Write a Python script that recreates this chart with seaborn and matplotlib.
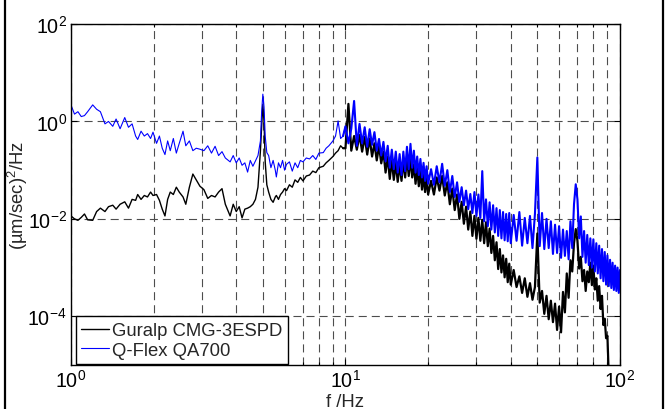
import numpy as np
import pandas as pd
import matplotlib
matplotlib.use("Agg")
import matplotlib.pyplot as plt
import seaborn as sns
from matplotlib.ticker import FixedLocator, LogFormatterMathtext, NullFormatter
from matplotlib.lines import Line2D

# ---------------- data (log10 of PSD) ----------------
freq_low = [1.00, 1.03, 1.06, 1.09, 1.12, 1.15, 1.20, 1.24, 1.28, 1.33, 1.37, 1.42, 1.46, 1.51,
            1.57, 1.62, 1.67, 1.72, 1.75, 1.80, 1.85, 1.90, 1.95, 1.99, 2.05, 2.10, 2.15, 2.20,
            2.25, 2.30, 2.36, 2.42, 2.48, 2.56, 2.62, 2.70, 2.78, 2.86, 2.95, 3.05, 3.15, 3.25,
            3.35, 3.45, 3.55, 3.65, 3.80, 3.90, 4.00, 4.10, 4.20, 4.30, 4.40, 4.50, 4.60, 4.70,
            4.80, 4.90, 4.95, 5.00, 5.05, 5.10, 5.17, 5.25, 5.35, 5.45, 5.55, 5.60, 5.70, 5.80,
            5.90, 6.00, 6.10, 6.25, 6.40, 6.55, 6.70, 6.85, 7.00, 7.20, 7.40, 7.60, 7.80, 8.00,
            8.30, 8.50, 8.70, 9.00, 9.20, 9.40, 9.60, 9.80]
freq_high = [10.00, 10.25, 10.50, 10.75, 11.00, 11.25, 11.50, 11.75, 12.00, 12.25, 12.50, 12.75,
             13.00, 13.25, 13.50, 13.75, 14.00, 14.25, 14.50, 14.75, 15.00, 15.25, 15.50, 15.75,
             16.00, 16.25, 16.50, 16.75, 17.00, 17.25, 17.50, 17.75, 18.00, 18.25, 18.50, 18.75,
             19.00, 19.25, 19.50, 19.75, 20.00,
             20.5, 21.0, 21.5, 22.0, 22.5, 23.0, 23.5, 24.0, 24.5, 25.0, 25.5, 26.0, 26.5, 27.0,
             27.5, 28.0, 28.5, 29.0, 29.5, 30.0, 30.5, 31.0, 31.5, 32.0, 32.5, 33.0, 33.5, 34.0,
             34.5, 35.0, 35.5, 36.0, 36.5, 37.0, 37.5, 38.0, 38.5, 39.0, 39.5, 40.0,
             41, 42, 43, 44, 45, 46, 47, 48, 49, 50, 51, 52, 53, 54, 55, 56, 57, 58, 59, 60,
             61, 62, 63, 64, 65, 66, 67, 68, 69, 70, 71, 72, 73, 74, 75, 76, 77, 78, 79, 80,
             81, 82, 83, 84, 85, 86, 87, 88, 89, 90, 91, 92, 93, 94, 95, 96, 97, 98, 99, 100]

guralp_log_low = [-1.94, -2.00, -2.03, -1.97, -1.90, -2.02, -2.03, -1.85, -1.78, -1.85, -1.75, -1.72,
                  -1.80, -1.70, -1.65, -1.78, -1.60, -1.62, -1.50, -1.60, -1.52, -1.55, -1.45, -1.52,
                  -1.50, -1.62, -1.80, -1.94, -1.60, -1.45, -1.50, -1.35, -1.45, -1.55, -1.70, -1.35,
                  -1.08, -1.20, -1.33, -1.40, -1.58, -1.52, -1.55, -1.45, -1.38, -1.70, -1.94, -1.70,
                  -1.85, -1.75, -1.98, -1.80, -1.78, -1.75, -1.70, -1.60, -1.35, -0.60, -0.10, 0.35,
                  0.00, -0.83, -1.30, -1.45, -1.60, -1.66, -1.55, -1.52, -1.60, -1.50, -1.45, -1.38,
                  -1.42, -1.30, -1.35, -1.20, -1.25, -1.15, -1.22, -1.12, -1.10, -1.02, -1.05, -0.95,
                  -0.92, -0.85, -0.80, -0.72, -0.65, -0.60, -0.50, -0.55]
qflex_log_low = [0.34, 0.15, 0.20, 0.10, 0.12, 0.20, 0.34, 0.25, 0.20, -0.05, 0.00, -0.10,
                 0.05, -0.15, 0.08, -0.12, -0.05, -0.30, -0.37, -0.20, -0.30, -0.25, -0.35, -0.22,
                 -0.45, -0.30, -0.55, -0.68, -0.40, -0.60, -0.35, -0.65, -0.45, -0.20, -0.50, -0.40,
                 -0.60, -0.55, -0.57, -0.60, -0.50, -0.65, -0.51, -0.70, -0.62, -0.75, -0.83, -0.70,
                 -0.85, -0.75, -0.90, -0.85, -1.04, -0.80, -0.92, -0.81, -0.70, -0.40, 0.20, 0.56,
                 0.30, -0.30, -0.64, -0.70, -0.95, -0.80, -1.00, -1.14, -0.85, -0.95, -0.80, -1.00,
                 -0.88, -0.83, -1.02, -0.85, -0.95, -0.80, -0.83, -0.75, -0.77, -0.70, -0.78, -0.65,
                 -0.64, -0.55, -0.50, -0.40, -0.30, 0.01, -0.35, -0.30]

guralp_log_high = [-0.55, 0.36, -0.60, -0.30, -0.58, -0.28, -0.62, -0.32, -0.68, -0.35, -0.72, -0.45,
                   -0.80, -0.50, -0.86, -0.62, -1.05, -0.72, -1.18, -0.80, -1.20, -0.85, -1.24, -0.88,
                   -1.22, -0.80, -1.15, -0.72, -1.12, -0.75, -1.15, -0.88, -1.28, -0.95, -1.33, -1.00,
                   -1.40, -1.10, -1.45, -1.15, -1.50,
                   -1.22, -1.50, -1.15, -1.42, -1.12, -1.52, -1.25, -1.70, -1.38, -1.82, -1.50, -2.00,
                   -1.65, -2.10, -1.75, -2.22, -1.85, -2.35, -1.94, -2.41, -1.98, -2.45, -2.02, -2.50,
                   -2.07, -2.56, -2.20, -2.70, -2.35, -2.85, -2.48, -3.03, -2.62, -3.10, -2.75, -3.20,
                   -2.82, -3.30, -2.92, -3.35,
                   -3.05, -3.40, -3.18, -3.52, -3.22, -3.60, -3.32, -3.66, -3.40, -2.30, -3.72, -3.48,
                   -3.95, -3.58, -4.06, -3.68, -4.12, -3.74, -4.28, -3.80, -4.33, -3.50, -3.92, -3.12,
                   -3.62, -2.85, -3.08, -2.50, -2.21, -2.45, -3.02, -2.78, -3.28, -3.05, -3.48, -3.08,
                   -3.30, -2.90, -3.36, -2.96, -3.45, -3.22, -3.68, -3.38, -3.85, -3.58, -4.18, -4.05,
                   -4.45, -4.40, -5.20, -6.00,
                   np.nan, np.nan, np.nan, np.nan, np.nan, np.nan, np.nan, np.nan]
qflex_log_high = [-0.10, -0.45, -0.15, 0.42, -0.50, -0.05, -0.45, -0.12, -0.52, -0.16, -0.48, -0.22,
                  -0.60, -0.36, -0.70, -0.42, -0.82, -0.50, -0.95, -0.58, -0.98, -0.62, -1.05, -0.67,
                  -1.10, -0.62, -1.02, -0.52, -0.98, -0.46, -0.95, -0.60, -1.05, -0.72, -1.10, -0.77,
                  -1.15, -0.85, -1.22, -0.92, -1.28,
                  -0.98, -1.30, -0.92, -1.25, -0.87, -1.32, -1.00, -1.45, -1.12, -1.55, -1.25, -1.65,
                  -1.35, -1.72, -1.42, -1.80, -1.49, -1.88, -1.45, -1.94, -1.50, -1.98, -1.02, -2.05,
                  -1.60, -2.15, -1.66, -2.22, -1.72, -2.28, -1.78, -2.35, -1.82, -2.40, -1.86, -2.44,
                  -1.90, -2.46, -1.88, -2.50,
                  -1.92, -2.45, -1.86, -2.55, -1.98, -2.50, -1.94, -2.60, -1.90, -0.74, -2.56, -1.88,
                  -2.62, -2.00, -2.60, -2.05, -2.72, -2.12, -2.70, -2.15, -2.80, -2.22, -2.76, -2.25,
                  -2.83, -2.05, -2.60, -1.70, -1.29, -1.60, -2.40, -1.95, -2.78, -2.25, -2.90, -2.33,
                  -2.95, -2.40, -3.00, -2.42, -3.08, -2.50, -3.12, -2.55, -3.22, -2.62, -3.28, -2.68,
                  -3.35, -2.75, -3.38, -2.84, -3.42, -2.90, -3.46, -2.96, -3.48, -3.00, -3.52, -3.05]

labels = ["Guralp CMG-3ESPD", "Q-Flex QA700"]
x_ticks = [1, 10, 100]
y_ticks = [1e-4, 1e-2, 1e0, 1e2]

# ---------------- build tables ----------------
freq = np.array(freq_low + freq_high, dtype=float)
g_vals = 10.0 ** np.array(guralp_log_low + guralp_log_high, dtype=float)
q_vals = 10.0 ** np.array(qflex_log_low + qflex_log_high, dtype=float)
df_g = pd.DataFrame({"f": freq, "psd": g_vals}).dropna()
df_q = pd.DataFrame({"f": freq, "psd": q_vals}).dropna()

# ---------------- style ----------------
sns.set_theme(style="ticks")
plt.rcParams["font.family"] = ["Liberation Sans", "DejaVu Sans"]
plt.rcParams["mathtext.fontset"] = "custom"
plt.rcParams["mathtext.rm"] = "Liberation Sans"
plt.rcParams["mathtext.it"] = "Liberation Sans:italic"
plt.rcParams["lines.scale_dashes"] = False
FS = 13.3

fig = plt.figure(figsize=(6.67, 4.10), dpi=100)
ax = fig.add_axes([0.1064, 0.1073, 0.8231, 0.8317])

# low-frequency part drawn thin, dense upper part drawn a bit heavier
for d, col, lw_lo, lw_hi in [(df_g, "black", 1.0, 1.6), (df_q, "#0000ff", 0.8, 1.5)]:
    lo = d[d["f"] <= 10.0]
    hi = d[d["f"] >= 9.79]
    sns.lineplot(data=lo, x="f", y="psd", color=col, estimator=None, sort=False,
                 linewidth=lw_lo, ax=ax, legend=False)
    sns.lineplot(data=hi, x="f", y="psd", color=col, estimator=None, sort=False,
                 linewidth=lw_hi, ax=ax, legend=False)

ax.set_xscale("log")
ax.set_yscale("log")
ax.set_xlim(1, 100)
ax.set_ylim(1e-5, 1e2)

ax.xaxis.set_major_locator(FixedLocator(x_ticks))
ax.yaxis.set_major_locator(FixedLocator(y_ticks))
ax.xaxis.set_major_formatter(LogFormatterMathtext())
ax.yaxis.set_major_formatter(LogFormatterMathtext())
minor_x = [m * d for d in (1, 10) for m in range(2, 10)]
ax.xaxis.set_minor_locator(FixedLocator(minor_x))
ax.xaxis.set_minor_formatter(NullFormatter())
ax.yaxis.set_minor_locator(FixedLocator([]))

ax.tick_params(which="both", direction="in", top=True, right=True, labelsize=14.2,
               colors="black", width=0.8)
ax.tick_params(which="major", length=4)
ax.tick_params(which="minor", length=2.5)
ax.tick_params(axis="x", pad=3)
ax.tick_params(axis="y", pad=3)

grid_kw = dict(color="0.3", linewidth=0.8, linestyle=(0, (5.8, 3.6)))
ax.grid(True, which="major", axis="both", **grid_kw)
ax.grid(True, which="minor", axis="x", **grid_kw)
ax.set_axisbelow(True)

for sp in ax.spines.values():
    sp.set_color("black")
    sp.set_linewidth(1.0)
    sp.set_visible(True)

ax.set_xlabel("f /Hz", fontsize=FS)
ax.xaxis.set_label_coords(0.5, -0.082)
ax.set_ylabel("(µm/sec)$^{2}$/Hz", fontsize=FS)
ax.yaxis.set_label_coords(-0.074, 0.5)

handles = [Line2D([], [], color="black", lw=1.0), Line2D([], [], color="#0000ff", lw=0.8)]
leg = ax.legend(handles, labels, loc="lower left", bbox_to_anchor=(0.009, 0.002),
                borderaxespad=0, frameon=True, fancybox=False, framealpha=1,
                edgecolor="black", fontsize=FS, handlelength=1.5, handletextpad=0.15,
                borderpad=0.3, labelspacing=0.15)
leg.get_frame().set_linewidth(1.0)

# outer frame lines of the picture
fig.add_artist(Line2D([0.0075, 0.0075], [0, 1], transform=fig.transFigure, color="black", lw=1.6))
fig.add_artist(Line2D([0.994, 0.994], [0, 1], transform=fig.transFigure, color="black", lw=1.6))

fig.savefig("out.png", dpi=100, facecolor="white")
